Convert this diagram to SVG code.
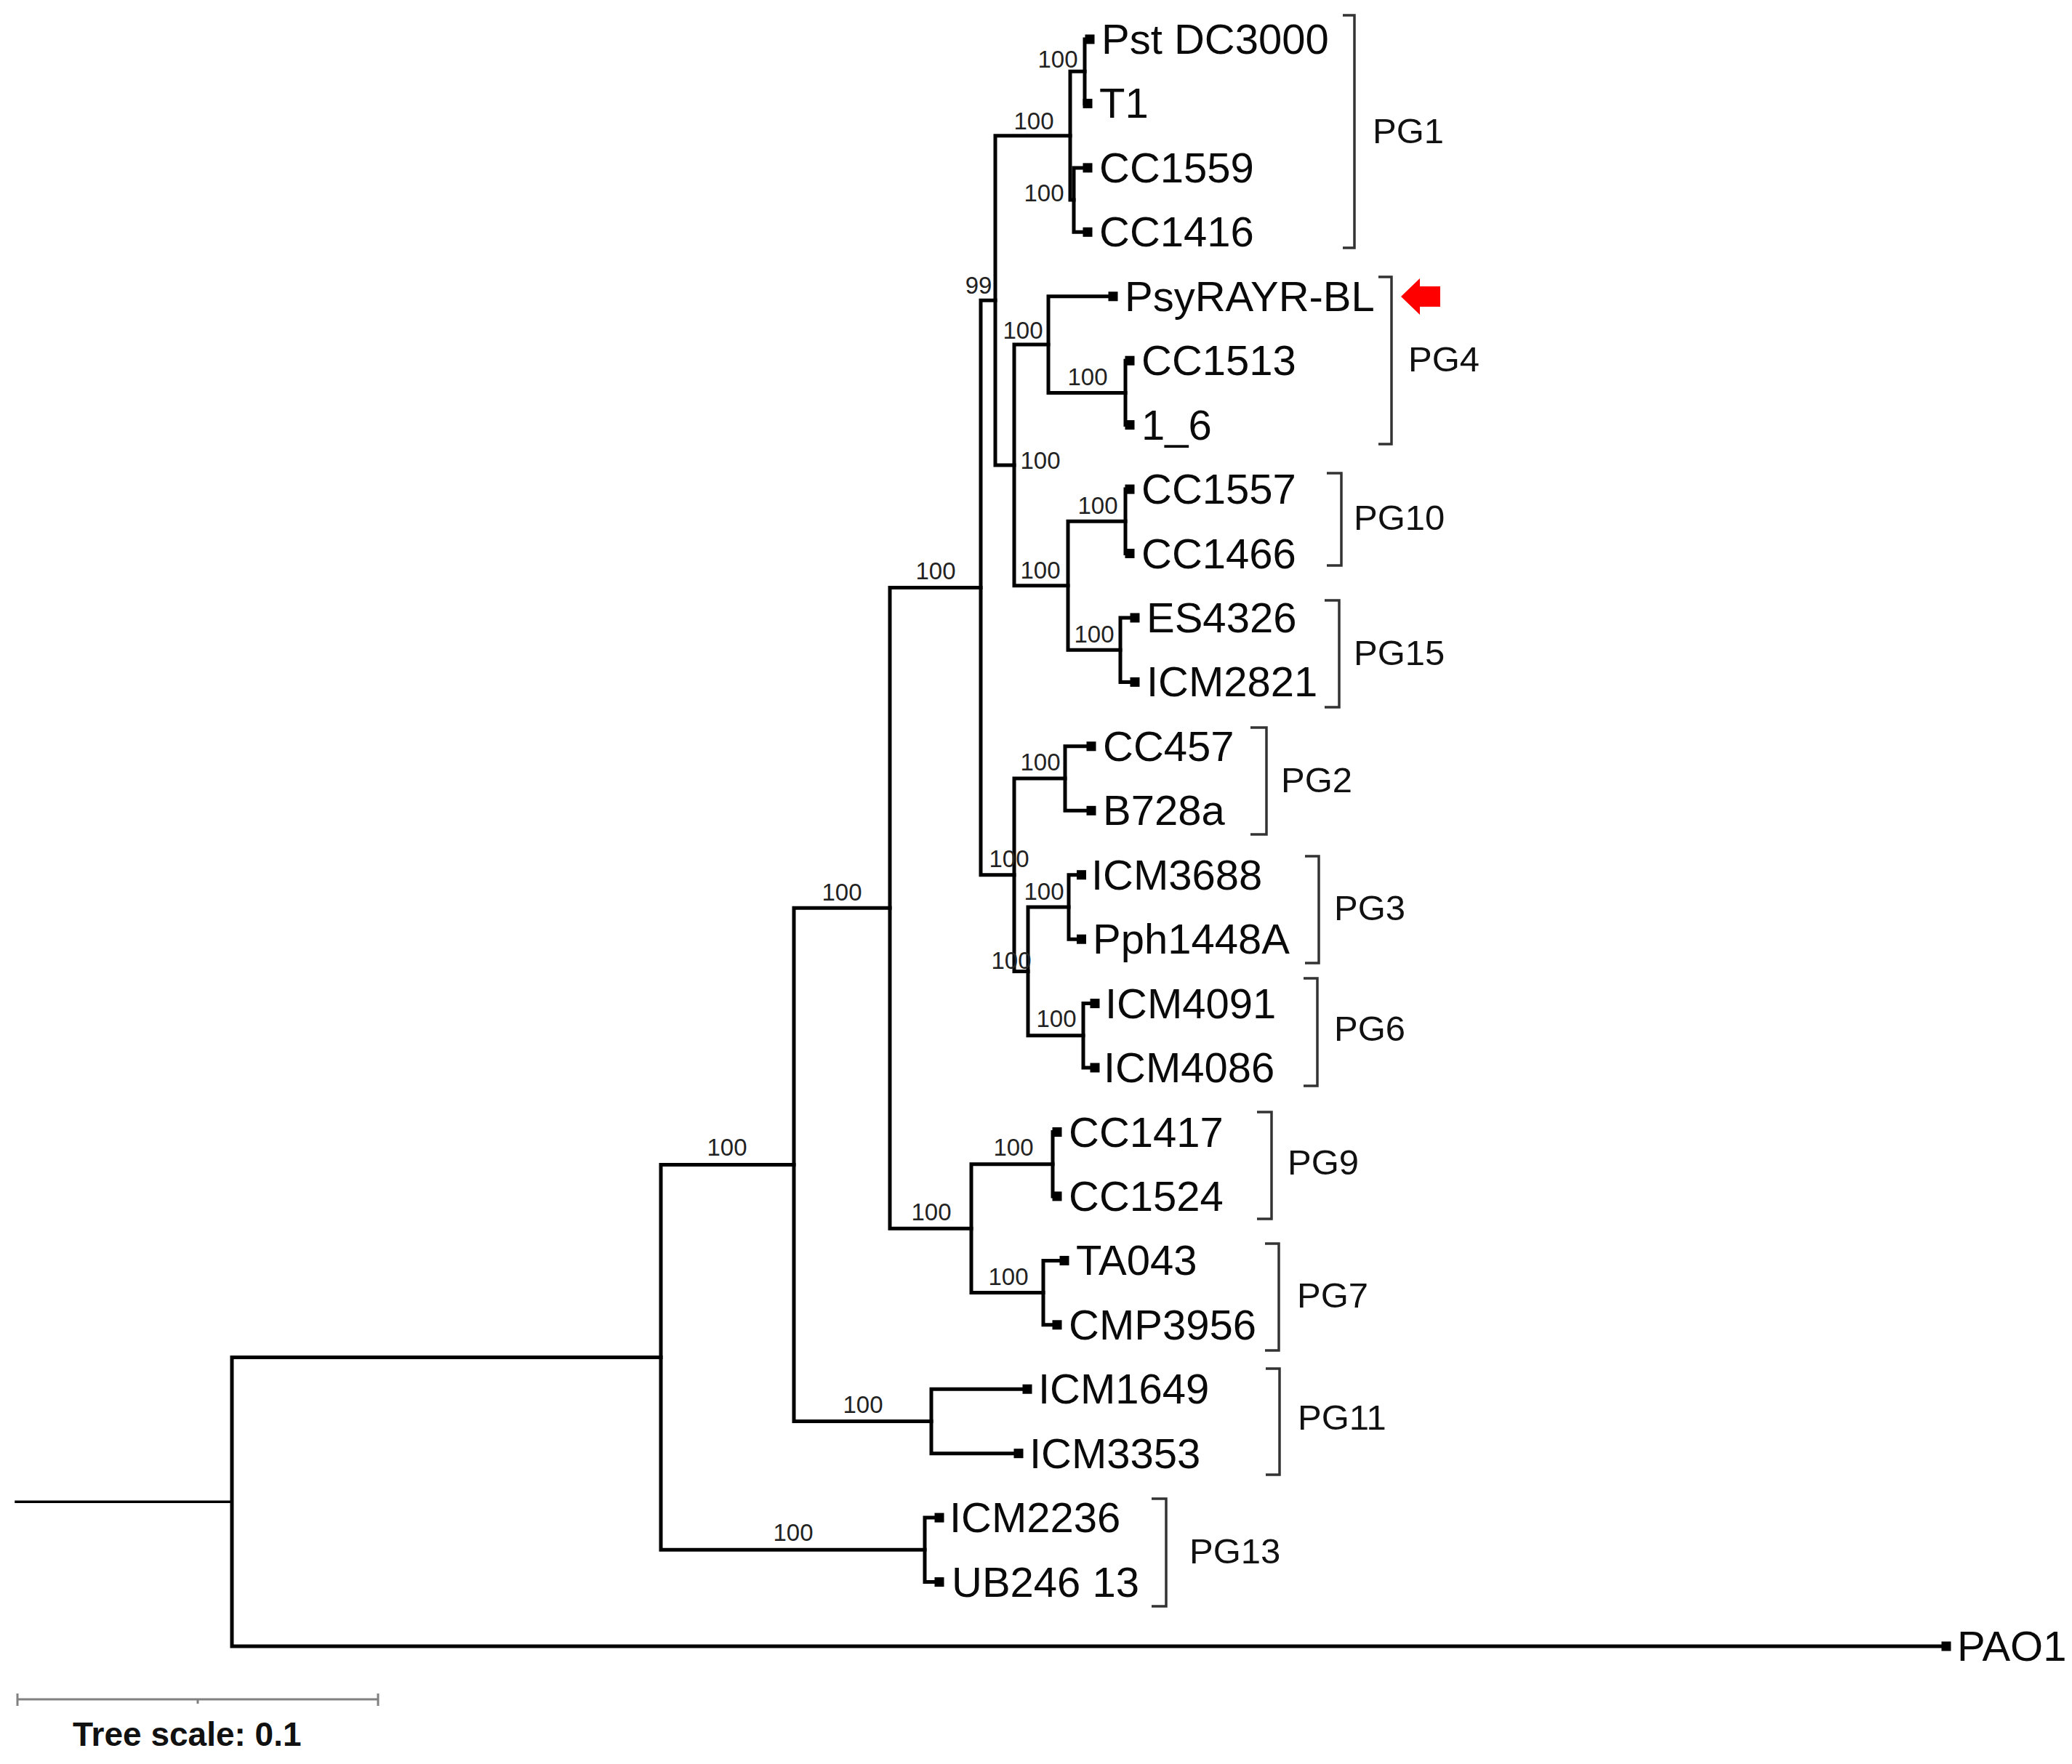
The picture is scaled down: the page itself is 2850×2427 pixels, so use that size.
<svg xmlns="http://www.w3.org/2000/svg" width="2850" height="2427" viewBox="0 0 2850 2427">
<style>
.br{fill:none;stroke:#000;stroke-width:5;stroke-linecap:square;stroke-linejoin:miter}
.rt{stroke-width:3.5}
.tip{fill:#000}
.lab{font-family:"Liberation Sans",Arial,sans-serif;font-size:58px;fill:#0a0a0a}
.bs{font-family:"Liberation Sans",Arial,sans-serif;font-size:33px;fill:#222;text-anchor:middle}
.brk{fill:none;stroke:#333;stroke-width:3.5}
.pg{font-family:"Liberation Sans",Arial,sans-serif;font-size:49px;fill:#111}
.sb{fill:none;stroke:#808080;stroke-width:3}
</style>
<defs>
<rect id="sq" x="-6.5" y="-6.5" width="13" height="13" class="tip"/>
</defs>
<rect width="2850" height="2427" fill="#fff"/>
<g id="connectors">
<path class="br rt" d="M22 2066.2 H319"/>
<path class="br" d="M909 1867.4 H319 V2265 H2677"/>
<path class="br" d="M1092 1602.4 H909 V2132.3 H1272"/>
<path class="br" d="M1292 2088.1 H1272 V2176.6 H1292"/>
<path class="br" d="M1224 1249.3 H1092 V1955.5 H1281"/>
<path class="br" d="M1413 1911.2 H1281 V1999.7 H1401"/>
<path class="br" d="M1349 808.5 H1224 V1690.2 H1336"/>
<path class="br" d="M1448 1601.7 H1336 V1778.6 H1435"/>
<path class="br" d="M1454 1557.5 H1448 V1645.9 H1454"/>
<path class="br" d="M1464 1734.4 H1435 V1822.8 H1454"/>
<path class="br" d="M1369 413.3 H1349 V1203.7 H1395"/>
<path class="br" d="M1472 186.7 H1369 V640 H1395"/>
<path class="br" d="M1492 98.2 H1472 V275.1 H1477"/>
<path class="br" d="M1499 54 H1492 V142.4 H1496"/>
<path class="br" d="M1496 230.9 H1477 V319.3 H1496"/>
<path class="br" d="M1442 474.1 H1395 V805.8 H1469"/>
<path class="br" d="M1531 407.8 H1442 V540.4 H1548"/>
<path class="br" d="M1554 496.2 H1548 V584.6 H1554"/>
<path class="br" d="M1548 717.3 H1469 V894.2 H1541"/>
<path class="br" d="M1554 673.1 H1548 V761.5 H1554"/>
<path class="br" d="M1561 850 H1541 V938.4 H1561"/>
<path class="br" d="M1465 1071 H1395 V1336.4 H1414"/>
<path class="br" d="M1501 1026.8 H1465 V1115.3 H1501"/>
<path class="br" d="M1470 1248 H1414 V1424.8 H1490"/>
<path class="br" d="M1487.5 1203.7 H1470 V1292.2 H1487.5"/>
<path class="br" d="M1506 1380.6 H1490 V1469 H1506"/>
</g>
<g id="support-values" class="bs">
<text x="1455" y="93">100</text>
<text x="1436" y="277">100</text>
<text x="1422" y="178">100</text>
<text x="1346" y="404">99</text>
<text x="1407" y="466">100</text>
<text x="1496" y="530">100</text>
<text x="1431" y="645">100</text>
<text x="1431" y="796">100</text>
<text x="1510" y="707">100</text>
<text x="1505" y="884">100</text>
<text x="1287" y="797">100</text>
<text x="1431" y="1060">100</text>
<text x="1388" y="1193">100</text>
<text x="1436" y="1238">100</text>
<text x="1391" y="1333">100</text>
<text x="1453" y="1413">100</text>
<text x="1394" y="1590">100</text>
<text x="1281" y="1679">100</text>
<text x="1387" y="1768">100</text>
<text x="1158" y="1239">100</text>
<text x="1000" y="1590">100</text>
<text x="1187" y="1944">100</text>
<text x="1091" y="2120">100</text>
</g>
<g id="leaf-PstDC3000"><use href="#sq" x="1499" y="54"/><text class="lab" x="1515" y="74">Pst DC3000</text></g>
<g id="leaf-T1"><use href="#sq" x="1496" y="142.4"/><text class="lab" x="1512" y="162.4">T1</text></g>
<g id="leaf-CC1559"><use href="#sq" x="1496" y="230.9"/><text class="lab" x="1512" y="250.9">CC1559</text></g>
<g id="leaf-CC1416"><use href="#sq" x="1496" y="319.3"/><text class="lab" x="1512" y="339.3">CC1416</text></g>
<g id="leaf-PsyRAYR-BL"><use href="#sq" x="1531" y="407.8"/><text class="lab" x="1547" y="427.8">PsyRAYR-BL</text></g>
<g id="leaf-CC1513"><use href="#sq" x="1554" y="496.2"/><text class="lab" x="1570" y="516.2">CC1513</text></g>
<g id="leaf-1_6"><use href="#sq" x="1554" y="584.6"/><text class="lab" x="1570" y="604.6">1_6</text></g>
<g id="leaf-CC1557"><use href="#sq" x="1554" y="673.1"/><text class="lab" x="1570" y="693.1">CC1557</text></g>
<g id="leaf-CC1466"><use href="#sq" x="1554" y="761.5"/><text class="lab" x="1570" y="781.5">CC1466</text></g>
<g id="leaf-ES4326"><use href="#sq" x="1561" y="850"/><text class="lab" x="1577" y="870">ES4326</text></g>
<g id="leaf-ICM2821"><use href="#sq" x="1561" y="938.4"/><text class="lab" x="1577" y="958.4">ICM2821</text></g>
<g id="leaf-CC457"><use href="#sq" x="1501" y="1026.8"/><text class="lab" x="1517" y="1046.8">CC457</text></g>
<g id="leaf-B728a"><use href="#sq" x="1501" y="1115.3"/><text class="lab" x="1517" y="1135.3">B728a</text></g>
<g id="leaf-ICM3688"><use href="#sq" x="1487.5" y="1203.7"/><text class="lab" x="1501" y="1223.7">ICM3688</text></g>
<g id="leaf-Pph1448A"><use href="#sq" x="1487.5" y="1292.2"/><text class="lab" x="1503" y="1312.2">Pph1448A</text></g>
<g id="leaf-ICM4091"><use href="#sq" x="1506" y="1380.6"/><text class="lab" x="1520" y="1400.6">ICM4091</text></g>
<g id="leaf-ICM4086"><use href="#sq" x="1506" y="1469"/><text class="lab" x="1518" y="1489">ICM4086</text></g>
<g id="leaf-CC1417"><use href="#sq" x="1454" y="1557.5"/><text class="lab" x="1470" y="1577.5">CC1417</text></g>
<g id="leaf-CC1524"><use href="#sq" x="1454" y="1645.9"/><text class="lab" x="1470" y="1665.9">CC1524</text></g>
<g id="leaf-TA043"><use href="#sq" x="1464" y="1734.4"/><text class="lab" x="1480" y="1754.4">TA043</text></g>
<g id="leaf-CMP3956"><use href="#sq" x="1454" y="1822.8"/><text class="lab" x="1470" y="1842.8">CMP3956</text></g>
<g id="leaf-ICM1649"><use href="#sq" x="1413" y="1911.2"/><text class="lab" x="1428" y="1931.2">ICM1649</text></g>
<g id="leaf-ICM3353"><use href="#sq" x="1401" y="1999.7"/><text class="lab" x="1416" y="2019.7">ICM3353</text></g>
<g id="leaf-ICM2236"><use href="#sq" x="1292" y="2088.1"/><text class="lab" x="1306" y="2108.1">ICM2236</text></g>
<g id="leaf-UB246_13"><use href="#sq" x="1292" y="2176.6"/><text class="lab" x="1309" y="2196.6">UB246 13</text></g>
<g id="leaf-PAO1"><use href="#sq" x="2677" y="2265"/><text class="lab" x="2692" y="2285">PAO1</text></g>
<g id="clade-PG1"><path class="brk" d="M1847 21 H1863 V341 H1847"/><text class="pg" x="1888" y="197">PG1</text></g>
<g id="clade-PG4"><path class="brk" d="M1896 381 H1914 V611 H1896"/><text class="pg" x="1937" y="511">PG4</text></g>
<g id="clade-PG10"><path class="brk" d="M1825 651 H1845 V778 H1825"/><text class="pg" x="1862" y="729">PG10</text></g>
<g id="clade-PG15"><path class="brk" d="M1822 826 H1842 V973 H1822"/><text class="pg" x="1862" y="915">PG15</text></g>
<g id="clade-PG2"><path class="brk" d="M1720 1001 H1742 V1148 H1720"/><text class="pg" x="1762" y="1090">PG2</text></g>
<g id="clade-PG3"><path class="brk" d="M1795 1178 H1814 V1325 H1795"/><text class="pg" x="1835" y="1266">PG3</text></g>
<g id="clade-PG6"><path class="brk" d="M1793 1346 H1812 V1494 H1793"/><text class="pg" x="1835" y="1432">PG6</text></g>
<g id="clade-PG9"><path class="brk" d="M1729 1530 H1749 V1677 H1729"/><text class="pg" x="1771" y="1616">PG9</text></g>
<g id="clade-PG7"><path class="brk" d="M1740 1711 H1759 V1858 H1740"/><text class="pg" x="1784" y="1799">PG7</text></g>
<g id="clade-PG11"><path class="brk" d="M1741 1883 H1760 V2029 H1741"/><text class="pg" x="1785" y="1967">PG11</text></g>
<g id="clade-PG13"><path class="brk" d="M1584 2062 H1604 V2210 H1584"/><text class="pg" x="1636" y="2151">PG13</text></g>
<g id="marker-arrow"><polygon fill="#ff0000" points="1927,408 1953,383 1953,394 1981,394 1981,422 1953,422 1953,433"/></g>
<g id="tree-scale">
<path class="sb" d="M24 2338 H520 M24 2330 V2347 M520 2330 V2347 M272 2338 V2344"/>
<text x="100" y="2402" font-family="'Liberation Sans',Arial,sans-serif" font-size="46" font-weight="bold" fill="#111">Tree scale: 0.1</text>
</g>
</svg>
